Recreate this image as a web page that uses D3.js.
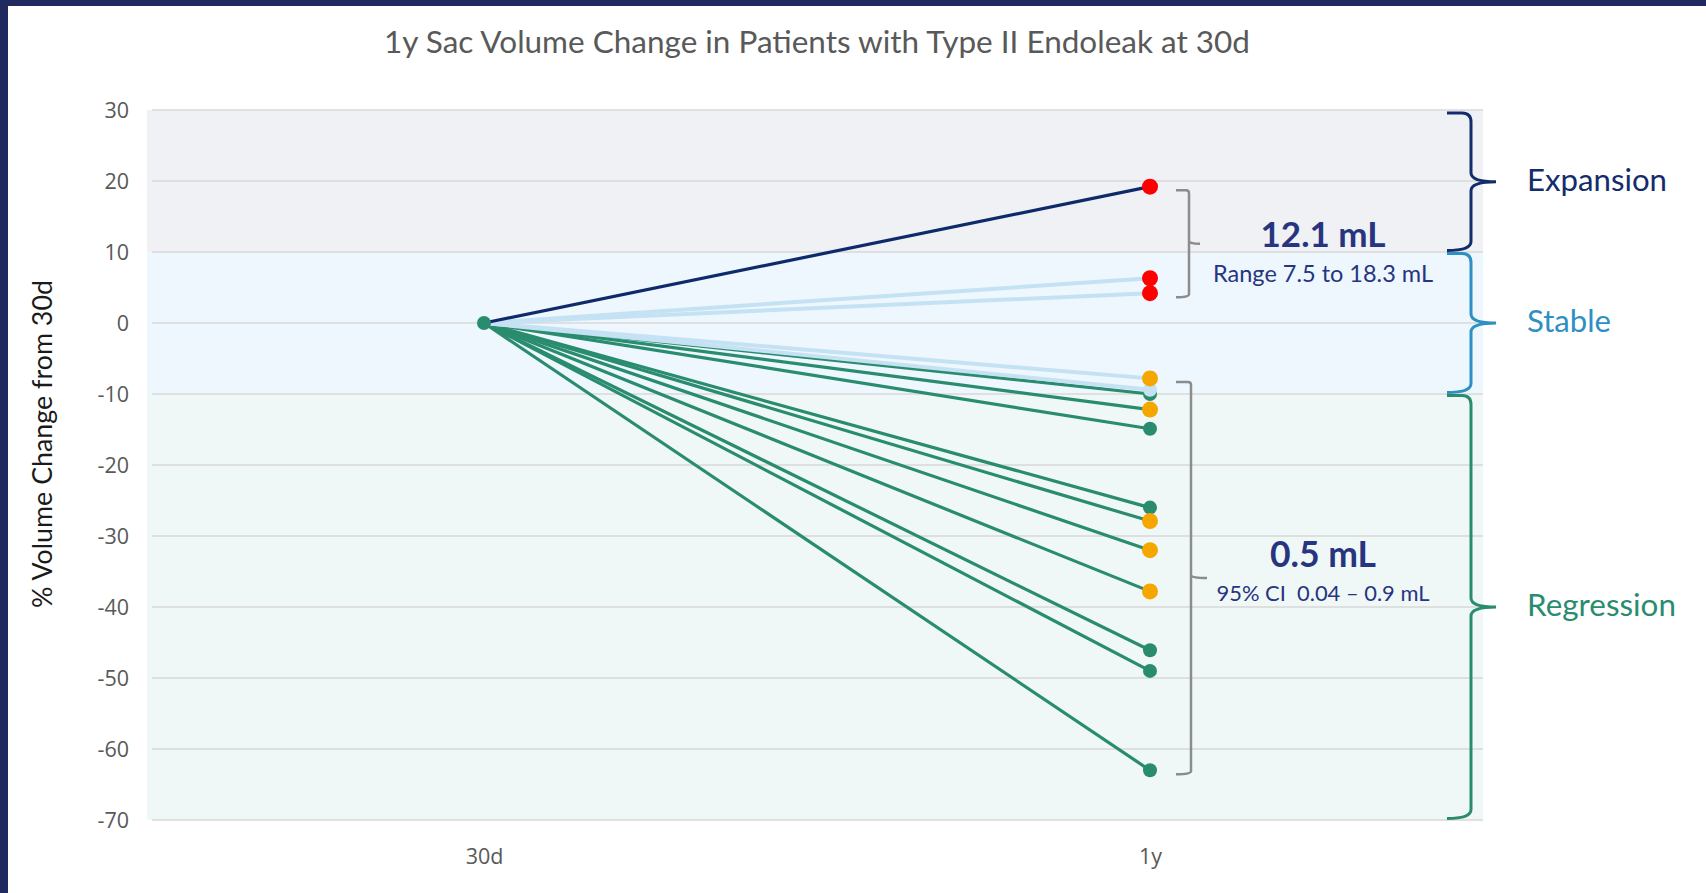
<!DOCTYPE html>
<html>
<head>
<meta charset="utf-8">
<script src="https://cdn.jsdelivr.net/npm/d3@7/dist/d3.min.js"></script>
<style>
  html, body { margin: 0; padding: 0; background: #ffffff; }
  svg { display: block; }
  svg text { white-space: pre; }
</style>
</head>
<body>
<svg id="chart" width="1706" height="893"></svg>
<script>
// ---- data ----
const categories = ["30d", "1y"];
const startValue = 0;
// % volume change at 1 year, one entry per patient
const endValues = [19.2, 6.3, 4.2, -7.8, -9.4, -10.0, -12.2, -14.9, -26.0, -27.9, -32.0, -37.8, -46.1, -49.0, -63.0];
// trajectory class of each patient's line
const lineClass = ["expansion", "stable", "stable", "stable", "stable", "regression", "regression", "regression",
                   "regression", "regression", "regression", "regression", "regression", "regression", "regression"];
// marker colour class at 1 year
const markerClass = ["red", "red", "red", "amber", "pale", "teal", "amber", "teal",
                     "teal", "amber", "amber", "amber", "teal", "teal", "teal"];
const yTicks = [30, 20, 10, 0, -10, -20, -30, -40, -50, -60, -70];

const zoneNames = ["Expansion", "Stable", "Regression"];
const zoneLow = [10, -10, -70];
const zoneHigh = [30, 10, -10];

// bracketed groups (patient index ranges) and their summary text
const groupFirst = [0, 3];
const groupLast = [2, 14];
const groupHeadline = ["12.1 mL", "0.5 mL"];
const groupDetail = ["Range 7.5 to 18.3 mL", "95% CI  0.04 \u2013 0.9 mL"];

const title = "1y Sac Volume Change in Patients with Type II Endoleak at 30d";
const yTitle = "% Volume Change from 30d";

// ---- styling ----
const zoneFill = { Expansion: "#eff1f5", Stable: "#edf7fd", Regression: "#eff8f7" };
const zoneInk = { Expansion: "#132c6b", Stable: "#2e8fc2", Regression: "#2a8c6e" };
const lineInk = { expansion: "#0f2a6b", stable: "#c4e2f3", regression: "#2a8c6e" };
const lineWidth = { expansion: 3.2, stable: 4, regression: 3.2 };
const markerInk = { red: "#ff0000", amber: "#f5a700", pale: "#c4e2f3", teal: "#2a8c6e" };
const markerR = { red: 8, amber: 8, pale: 7, teal: 7 };
const markerOrder = { teal: 0, pale: 1, amber: 2, red: 3 };
const uiFont = "'Open Sans', 'Noto Sans', sans-serif";
const labelFont = "Lato, 'Noto Sans', sans-serif";

const svg = d3.select("#chart");
const W = 1706, H = 893;

// frame strips
svg.append("rect").attr("x", 0).attr("y", 0).attr("width", W).attr("height", 6).attr("fill", "#202a5e");
svg.append("rect").attr("x", 0).attr("y", 0).attr("width", 8).attr("height", H).attr("fill", "#202a5e");

const plot = { left: 147, right: 1483, top: 110, bottom: 820 };

const x = d3.scalePoint().domain(categories).range([484, 1150]);
const y = d3.scaleLinear().domain([-70, 30]).range([plot.bottom, plot.top]);

// fit a text element to a target width by scaling its font size
function fitWidth(sel, width) {
  sel.attr("font-size", 100);
  const w = sel.node().getComputedTextLength();
  sel.attr("font-size", (100 * width / w).toFixed(2));
  return sel;
}

// zone backgrounds
svg.append("g").selectAll("rect").data(zoneNames).join("rect")
  .attr("x", plot.left)
  .attr("width", plot.right - plot.left)
  .attr("y", (d, i) => y(zoneHigh[i]))
  .attr("height", (d, i) => y(zoneLow[i]) - y(zoneHigh[i]))
  .attr("fill", d => zoneFill[d]);

// y axis: gridlines + labels
const yAxis = d3.axisLeft(y).tickValues(yTicks).tickSize(0).tickPadding(0).tickFormat(d => String(d));
const yg = svg.append("g").attr("transform", `translate(129,0)`).call(yAxis);
yg.select(".domain").remove();
yg.selectAll("text").attr("font-family", uiFont).attr("font-size", 21.5).attr("fill", "#595959").attr("dy", "0.35em");

svg.append("g").selectAll("line").data(yTicks).join("line")
  .attr("x1", plot.left + 5).attr("x2", plot.right)
  .attr("y1", d => y(d)).attr("y2", d => y(d))
  .attr("stroke", "#d9d9d9").attr("stroke-width", 1.5);

// x axis labels
const xAxis = d3.axisBottom(x).tickSize(0).tickPadding(0);
const xg = svg.append("g").attr("transform", `translate(0,${plot.bottom})`).call(xAxis);
xg.select(".domain").remove();
xg.selectAll("text").attr("font-family", uiFont).attr("font-size", 21.5).attr("fill", "#595959")
  .attr("y", 44).attr("dy", 0);

// patient lines: regression first, then stable, then expansion on top
const lineRank = { regression: 0, stable: 1, expansion: 2 };
const idx = d3.range(endValues.length);
const byLine = idx.slice().sort((a, b) => lineRank[lineClass[a]] - lineRank[lineClass[b]]);
svg.append("g").selectAll("line").data(byLine).join("line")
  .attr("x1", x(categories[0])).attr("y1", y(startValue))
  .attr("x2", x(categories[1])).attr("y2", i => y(endValues[i]))
  .attr("stroke", i => lineInk[lineClass[i]])
  .attr("stroke-width", i => lineWidth[lineClass[i]])
  .attr("stroke-linecap", "round");

// markers at 1 year
const byMarker = idx.slice().sort((a, b) => markerOrder[markerClass[a]] - markerOrder[markerClass[b]]);
svg.append("g").selectAll("circle").data(byMarker).join("circle")
  .attr("cx", x(categories[1])).attr("cy", i => y(endValues[i]))
  .attr("r", i => markerR[markerClass[i]])
  .attr("fill", i => markerInk[markerClass[i]]);

// shared start marker
svg.append("circle").attr("cx", x(categories[0])).attr("cy", y(startValue)).attr("r", 7).attr("fill", "#2a8c6e");

// square brackets with mid tick around each group
const bx = x(categories[1]);
groupFirst.forEach((f, g) => {
  const vals = endValues.slice(f, groupLast[g] + 1);
  const top = y(d3.max(vals)) + 3.5;
  const bot = y(d3.min(vals)) + 4;
  const mid = (top + bot) / 2;
  const x0 = bx + 26, x1 = bx + 39 + g * 2, tip = x1 + 11 + g * 5;
  const p = d3.path();
  p.moveTo(x0, top); p.lineTo(x1 - 3, top); p.quadraticCurveTo(x1, top, x1, top + 3);
  p.lineTo(x1, mid - 3); p.quadraticCurveTo(x1, mid, tip, mid);
  p.moveTo(x1, mid - 3); p.quadraticCurveTo(x1, mid, x1, mid + 3);
  p.lineTo(x1, bot - 3); p.quadraticCurveTo(x1, bot, x0, bot);
  svg.append("path").attr("d", p.toString()).attr("fill", "none")
    .attr("stroke", "#8c8c8c").attr("stroke-width", 2.5);

  const cx = 1323;
  const head = svg.append("text").text(groupHeadline[g])
    .attr("x", cx).attr("y", g === 0 ? 247 : 567).attr("text-anchor", "middle")
    .attr("font-family", labelFont).attr("font-weight", 700).attr("fill", "#273480");
  fitWidth(head, g === 0 ? 125 : 106);
  const det = svg.append("text").text(groupDetail[g])
    .attr("x", cx).attr("y", g === 0 ? 282 : 601).attr("text-anchor", "middle")
    .attr("font-family", labelFont).attr("fill", "#273480");
  fitWidth(det, g === 0 ? 220 : 213);
});

// curly braces naming each zone
const braceX = 1471, braceTip = 1496, braceEnd = 1447;
const zoneLabelWidth = { Expansion: 140, Stable: 84, Regression: 149 };
zoneNames.forEach((z, i) => {
  const top = y(zoneHigh[i]) + (i === 0 ? 3 : 1.5);
  const bot = y(zoneLow[i]) - 1.5;
  const mid = (top + bot) / 2;
  const r = 9;
  const p = d3.path();
  p.moveTo(braceEnd, top); p.lineTo(braceX - r, top); p.quadraticCurveTo(braceX, top, braceX, top + r);
  p.lineTo(braceX, mid - r); p.quadraticCurveTo(braceX, mid, braceTip, mid);
  p.quadraticCurveTo(braceX, mid, braceX, mid + r);
  p.lineTo(braceX, bot - r); p.quadraticCurveTo(braceX, bot, braceEnd, bot);
  svg.append("path").attr("d", p.toString()).attr("fill", "none")
    .attr("stroke", zoneInk[z]).attr("stroke-width", 3);

  const t = svg.append("text").text(z)
    .attr("x", 1527).attr("y", mid + 9)
    .attr("font-family", labelFont).attr("fill", zoneInk[z]);
  fitWidth(t, zoneLabelWidth[z]);
});

// titles
const tt = svg.append("text").text(title)
  .attr("x", 817).attr("y", 53).attr("text-anchor", "middle")
  .attr("font-family", labelFont).attr("fill", "#595959");
fitWidth(tt, 866);

const yt = svg.append("text").text(yTitle)
  .attr("transform", "translate(52,444) rotate(-90)").attr("text-anchor", "middle")
  .attr("font-family", labelFont).attr("fill", "#1a1a1a");
fitWidth(yt, 328);
</script>
</body>
</html>
